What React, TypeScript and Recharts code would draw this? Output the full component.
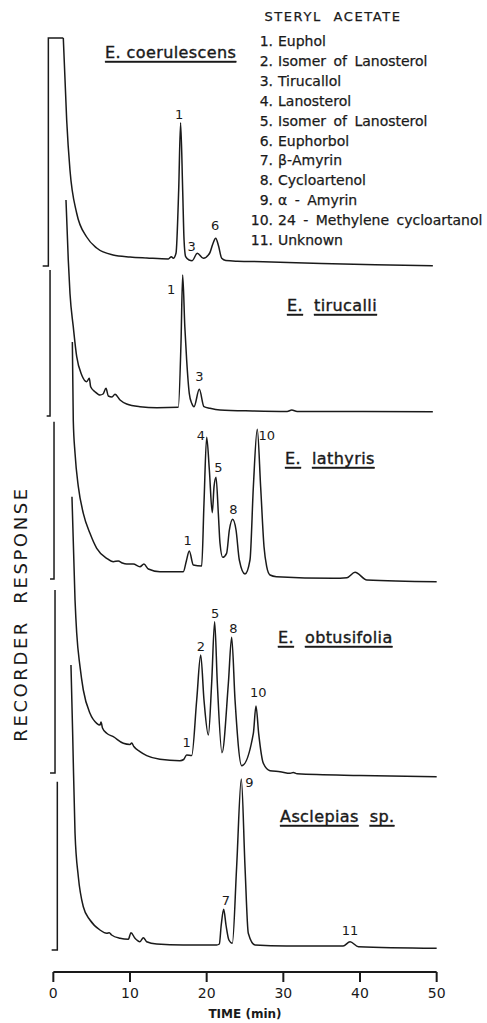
import React from 'react';
import { LineChart, Line, XAxis, YAxis, ReferenceLine, ReferenceDot } from 'recharts';

// ---------- axis ----------
const timeTicks = [0, 10, 20, 30, 40, 50];

// ---------- trace baselines (response units, stacked offsets) ----------
const traceOffsets = [706, 556, 393, 199, 22];

// ---------- injection / pen start segments (time, response) ----------
const start1Time = [-1.39, -0.65, -0.65, 1.3];
const start1Resp = [0, 0, 228, 228];
const start2Time = [-0.87, -0.43, -0.43];
const start2Resp = [0, 0, 146];
const start3Time = [-0.43, 0.09, 0.09];
const start3Resp = [0, 0, 157.3];
const start4Time = [-0.43, 0.22, 0.22];
const start4Resp = [0, 0, 183];
const start5Time = [-0.22, 0.52, 0.52];
const start5Resp = [0, 0, 168.3];

// ---------- E. coerulescens ----------
const t1Time = [1.3, 1.74, 2.17, 3.04, 4.35, 5.65, 7.78, 10.0, 12.2, 15.0, 15.4, 15.65, 16.0, 16.35, 16.6, 16.87, 17.05, 17.26, 17.7, 18.1, 18.78, 19.56, 20.4, 20.8, 21.18, 21.55, 21.96, 22.5, 24.0, 27.4, 35.0, 42.0, 49.5];
const t1Resp = [228, 146, 96, 53, 29, 18, 11, 9, 8, 7, 9.3, 7.7, 12.7, 76, 143.3, 76, 26, 9.3, 6, 5.3, 12.7, 7.7, 13, 22, 27.7, 20, 7.7, 5.5, 4.8, 4.3, 2.5, 1.2, 0.3];

// ---------- E. tirucalli ----------
const t2Time = [1.65, 1.95, 2.17, 2.6, 3.05, 3.7, 4.35, 4.69, 4.87, 5.43, 6.09, 6.48, 6.87, 7.17, 7.65, 8.04, 8.7, 9.57, 11.3, 13.5, 16.3, 16.65, 16.87, 17.15, 17.39, 17.73, 18.05, 18.35, 19.04, 19.65, 20.43, 21.74, 26.0, 30.5, 31.1, 31.8, 40.0, 49.5];
const t2Resp = [216, 156, 122.7, 89.3, 59.3, 41, 34.3, 37.7, 29.3, 24.3, 21, 22, 27.7, 20, 19, 21.7, 16, 12, 9.3, 8.3, 8.7, 72.7, 141, 89.3, 56, 22.7, 12.7, 9.3, 26.7, 9.3, 7.7, 6, 5, 4.5, 6, 4.5, 4.5, 4.3];

// ---------- E. lathyris ----------
const t3Time = [2.48, 2.6, 2.83, 3.26, 3.91, 4.78, 5.66, 6.96, 7.82, 8.47, 9.0, 9.57, 10.43, 11.3, 11.82, 12.39, 13.9, 16.95, 17.35, 17.73, 18.26, 19.35, 19.65, 20.0, 20.35, 20.73, 20.96, 21.22, 21.52, 21.74, 22.09, 22.6, 22.96, 23.39, 23.83, 24.26, 25.0, 25.65, 26.09, 26.6, 27.04, 27.48, 27.83, 28.26, 29.1, 36.5, 38.3, 39.35, 40.9, 50.0];
const t3Resp = [237, 159, 125.7, 92.3, 65.7, 45.7, 30.7, 20.7, 17.3, 18, 16, 15, 15, 12.3, 15, 10, 7.3, 7.3, 18, 28, 14, 13, 75.7, 141.7, 109, 66.3, 92.3, 101.7, 65.7, 35.7, 21.7, 25.7, 49, 59.7, 49, 19, 5, 19, 92.3, 149.7, 92.3, 32.3, 12.3, 4, 2.3, 0.7, 1.3, 6.7, -1, -2.7];

// ---------- E. obtusifolia ----------
const t4Time = [2.43, 2.83, 3.05, 3.48, 3.91, 4.78, 5.66, 6.09, 6.22, 6.41, 6.96, 7.82, 9.13, 10.0, 10.22, 10.5, 11.3, 12.18, 13.9, 16.52, 17.0, 17.39, 18.05, 18.7, 19.22, 19.65, 20.22, 20.65, 21.04, 21.39, 22.0, 22.83, 23.26, 23.7, 24.57, 26.09, 26.43, 26.78, 27.39, 28.26, 29.57, 30.9, 31.3, 31.8, 40.0, 50.0];
const t4Resp = [276.3, 173, 139.7, 106.3, 83, 59.7, 49.7, 48, 51, 45, 39.7, 36.3, 29.7, 28.5, 30, 26.5, 21.3, 17.3, 13.7, 12.3, 13.5, 18, 17.5, 73, 118, 73, 38, 89.7, 151.3, 89.7, 20.3, 89.7, 135.7, 73, 7.3, 39.7, 67, 39.7, 9.7, 2.3, 1.3, -0.3, 0.5, -0.8, -2.5, -3.7];

// ---------- Asclepias sp. ----------
const t5Time = [2.3, 2.52, 2.83, 3.26, 3.91, 4.78, 6.09, 6.96, 7.3, 7.6, 8.7, 9.78, 10.13, 10.65, 11.3, 11.74, 12.17, 13.48, 16.95, 21.3, 21.65, 21.9, 22.22, 22.52, 22.9, 23.35, 23.91, 24.52, 25.0, 25.43, 26.3, 30.4, 37.8, 38.7, 39.8, 50.0];
const t5Resp = [285, 216.7, 116.7, 73.3, 43.3, 30, 20, 16.7, 17.3, 15, 11.7, 10.7, 17.3, 11.7, 8.3, 12.3, 8.3, 6, 5, 5, 6, 25, 40.7, 25, 10, 6.7, 83.3, 171, 83.3, 16.7, 5, 4, 4, 8.3, 3.3, 1.7];

// ---------- peak number labels (time, response within trace, text) ----------
const peakLabels1 = [
  { t: 16.41, v: 152, text: '1' },
  { t: 18.05, v: 19.3, text: '3' },
  { t: 21.09, v: 41, text: '6' },
];
const peakLabels2 = [
  { t: 15.35, v: 126.7, text: '1' },
  { t: 19.04, v: 39.3, text: '3' },
];
const peakLabels3 = [
  { t: 17.52, v: 39, text: '1' },
  { t: 19.26, v: 144, text: '4' },
  { t: 21.52, v: 111.3, text: '5' },
  { t: 23.48, v: 69.7, text: '8' },
  { t: 27.83, v: 144, text: '10' },
];
const peakLabels4 = [
  { t: 17.39, v: 30.3, text: '1' },
  { t: 19.26, v: 127, text: '2' },
  { t: 21.09, v: 159.7, text: '5' },
  { t: 23.48, v: 144.7, text: '8' },
  { t: 26.74, v: 80.3, text: '10' },
];
const peakLabels5 = [
  { t: 22.52, v: 49.3, text: '7' },
  { t: 25.56, v: 167.3, text: '9' },
  { t: 38.7, v: 19.3, text: '11' },
];

// ---------- species names ----------
const speciesNames = [
  { t: 6.75, v: 214, words: ['E. coerulescens'] },
  { t: 30.48, v: 111, words: ['E.', 'tirucalli'] },
  { t: 30.22, v: 121, words: ['E.', 'lathyris'] },
  { t: 29.3, v: 136, words: ['E.', 'obtusifolia'] },
  { t: 29.57, v: 134, words: ['Asclepias', 'sp.'] },
];

// ---------- legend ----------
const legendTitle = 'STERYL ACETATE';
const legendNumbers = ['1.', '2.', '3.', '4.', '5.', '6.', '7.', '8.', '9.', '10.', '11.'];
const legendNames = [
  'Euphol',
  'Isomer of Lanosterol',
  'Tirucallol',
  'Lanosterol',
  'Isomer of Lanosterol',
  'Euphorbol',
  'β-Amyrin',
  'Cycloartenol',
  'α - Amyrin',
  '24 - Methylene cycloartanol',
  'Unknown',
];

const build = (ts: number[], vs: number[], off: number) => ts.map((t, i) => ({ t, y: vs[i] + off }));

const starts = [
  build(start1Time, start1Resp, traceOffsets[0]),
  build(start2Time, start2Resp, traceOffsets[1]),
  build(start3Time, start3Resp, traceOffsets[2]),
  build(start4Time, start4Resp, traceOffsets[3]),
  build(start5Time, start5Resp, traceOffsets[4]),
];
const traces = [
  build(t1Time, t1Resp, traceOffsets[0]),
  build(t2Time, t2Resp, traceOffsets[1]),
  build(t3Time, t3Resp, traceOffsets[2]),
  build(t4Time, t4Resp, traceOffsets[3]),
  build(t5Time, t5Resp, traceOffsets[4]),
];
const peakLabelSets = [peakLabels1, peakLabels2, peakLabels3, peakLabels4, peakLabels5];

const INK = '#1a1a1a';
const FONT = 'DejaVu Sans, sans-serif';

export default function App() {
  return (
    <div style={{ position: 'relative', width: 487, height: 1023 }}>
      <style>{'body{margin:0;background:#fff}'}</style>
      <LineChart width={487} height={1023} margin={{ top: 22, right: 50.33, bottom: 21, left: 38 }}>
        <XAxis
          type="number"
          dataKey="t"
          domain={[-2, 50]}
          ticks={timeTicks}
          height={30}
          axisLine={false}
          tickSize={10}
          tickMargin={6}
          tickLine={{ stroke: INK, strokeWidth: 2 }}
          tick={{ fontFamily: FONT, fontSize: 14, fill: INK }}
        />
        <YAxis type="number" dataKey="y" domain={[0, 950]} hide width={0} />
        <ReferenceLine
          segment={[
            { x: 0, y: 0 },
            { x: 50, y: 0 },
          ]}
          stroke={INK}
          strokeWidth={2}
        />
        {starts.map((d, i) => (
          <Line
            key={'s' + i}
            data={d}
            dataKey="y"
            type="linear"
            stroke={INK}
            strokeWidth={1.5}
            dot={false}
            activeDot={false}
            isAnimationActive={false}
          />
        ))}
        {traces.map((d, i) => (
          <Line
            key={'t' + i}
            data={d}
            dataKey="y"
            type="monotone"
            stroke={INK}
            strokeWidth={1.5}
            dot={false}
            activeDot={false}
            isAnimationActive={false}
          />
        ))}
        {peakLabelSets.map((set, i) =>
          set.map((p, j) => (
            <ReferenceDot
              key={'p' + i + '-' + j}
              x={p.t}
              y={p.v + traceOffsets[i]}
              r={0}
              shape={(props: any) => (
                <text
                  x={props.cx}
                  y={props.cy}
                  textAnchor="middle"
                  dominantBaseline="central"
                  fontFamily={FONT}
                  fontSize={13}
                  fill={INK}
                >
                  {p.text}
                </text>
              )}
            />
          ))
        )}
        {speciesNames.map((s, i) => (
          <ReferenceDot
            key={'n' + i}
            x={s.t}
            y={s.v + traceOffsets[i]}
            r={0}
            shape={(props: any) => (
              <text
                x={props.cx}
                y={props.cy}
                textAnchor="start"
                dominantBaseline="central"
                fontFamily={FONT}
                fontSize={16}
                letterSpacing={0.4}
                fill={INK}
                stroke={INK}
                strokeWidth={0.4}
                style={{ whiteSpace: 'pre' }}
              >
                {s.words.map((w, k) => (
                  <tspan key={k} dx={k === 0 ? 0 : 11} style={{ textDecoration: 'underline' }}>
                    {w}
                  </tspan>
                ))}
              </text>
            )}
          />
        ))}
      </LineChart>
      <svg
        width={487}
        height={1023}
        style={{ position: 'absolute', left: 0, top: 0, pointerEvents: 'none' }}
      >
        <text
          x={333}
          y={16}
          textAnchor="middle"
          dominantBaseline="central"
          fontFamily={FONT}
          fontSize={13}
          letterSpacing={1.6}
          wordSpacing={6}
          fill={INK}
          stroke={INK}
          strokeWidth={0.25}
        >
          {legendTitle}
        </text>
        {legendNames.map((name, i) => (
          <g key={i}>
            <text
              x={273}
              y={41 + 19.9 * i}
              textAnchor="end"
              dominantBaseline="central"
              fontFamily={FONT}
              fontSize={14}
              fill={INK}
              stroke={INK}
              strokeWidth={0.25}
            >
              {legendNumbers[i]}
            </text>
            <text
              x={278}
              y={41 + 19.9 * i}
              textAnchor="start"
              dominantBaseline="central"
              fontFamily={FONT}
              fontSize={14}
              wordSpacing={3}
              fill={INK}
              stroke={INK}
              strokeWidth={0.25}
            >
              {name}
            </text>
          </g>
        ))}
        <text
          x={20}
          y={614}
          transform="rotate(-90 20 614)"
          textAnchor="middle"
          dominantBaseline="central"
          fontFamily={FONT}
          fontSize={18}
          letterSpacing={2.6}
          wordSpacing={8}
          fill={INK}
        >
          RECORDER RESPONSE
        </text>
        <text
          x={245}
          y={1014}
          textAnchor="middle"
          dominantBaseline="central"
          fontFamily={FONT}
          fontSize={12}
          fontWeight="bold"
          fill={INK}
        >
          TIME (min)
        </text>
      </svg>
    </div>
  );
}
